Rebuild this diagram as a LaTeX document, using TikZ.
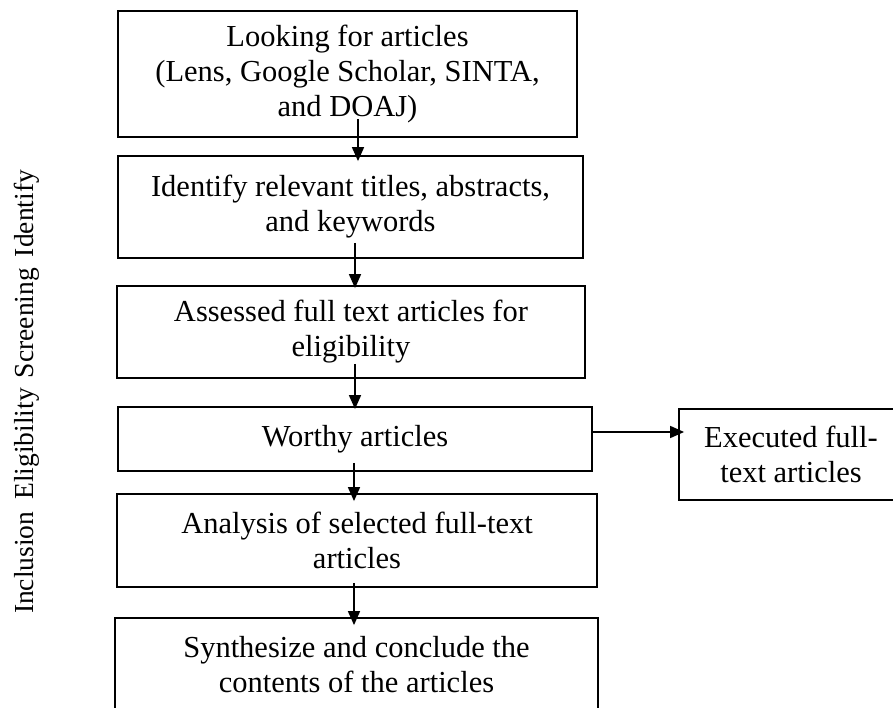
\documentclass[tikz,border=0pt]{standalone}
\usepackage{fontspec}
\setmainfont{Liberation Serif}
\usetikzlibrary{arrows.meta,calc}
\begin{document}
\begin{tikzpicture}[x=1pt,y=-1pt,
  box/.style={draw=black,line width=1.8pt,inner sep=0pt,align=center,
    font=\fontsize{30.5}{35}\selectfont},
  arr/.style={line width=1.6pt,-{Triangle[length=14pt,width=12pt]}},
  sidelabel/.style={rotate=90,inner sep=0pt,font=\fontsize{27.5}{30}\selectfont}]
\useasboundingbox (0,0) rectangle (893,708);
\fill[white] (0,0) rectangle (893,708);
% boxes (pixel geometry)
\node[box,minimum width=459pt,minimum height=126pt] (b1) at (347.5,74)
  {Looking for articles\\(Lens, Google Scholar, SINTA,\\and DOAJ)};
\node[box,minimum width=465pt,minimum height=102pt] (b2) at (350.5,207)
  {Identify relevant titles, abstracts,\\and keywords};
\node[box,minimum width=468pt,minimum height=92pt] (b3) at (351,332)
  {Assessed full text articles for\\eligibility};
\node[box,minimum width=474pt,minimum height=64pt] (b4) at (355,439)
  {Worthy articles};
\node[box,minimum width=480pt,minimum height=93pt] (b5) at (357,540.5)
  {Analysis of selected full-text\\articles};
\node[box,minimum width=483pt,minimum height=93pt] (b6) at (356.5,664.5)
  {Synthesize and conclude the\\contents of the articles};
\node[box,minimum width=224pt,minimum height=91pt] (ex) at (791,454.5)
  {Executed full-\\text articles};
% side label
\node[sidelabel] (lab) at (27,392)
  {Inclusion\hspace{12pt}Eligibility\hspace{10pt}Screening\hspace{11pt}Identify};
% arrow columns
\coordinate (c1) at (358,0);
\coordinate (c2) at (355,0);
\coordinate (c3) at (355,0);
\coordinate (c4) at (354,0);
\coordinate (c5) at (354,0);
\draw[arr] ($(b1.south -| c1)+(0pt,19pt)$) -- ($(b2.north -| c1)+(0pt,-6pt)$);
\draw[arr] ($(b2.south -| c2)+(0pt,16pt)$) -- ($(b3.north -| c2)+(0pt,-3pt)$);
\draw[arr] ($(b3.south -| c3)+(0pt,15pt)$) -- ($(b4.north -| c3)+(0pt,-3pt)$);
\draw[arr] ($(b4.south -| c4)+(0pt,9pt)$) -- ($(b5.north -| c4)+(0pt,-8pt)$);
\draw[arr] ($(b5.south -| c5)+(0pt,5pt)$) -- ($(b6.north -| c5)+(0pt,-8pt)$);
\coordinate (h) at (0,432);
\draw[arr] (b4.east |- h) -- ($(ex.west |- h)+(6pt,0pt)$);
\end{tikzpicture}
\end{document}
